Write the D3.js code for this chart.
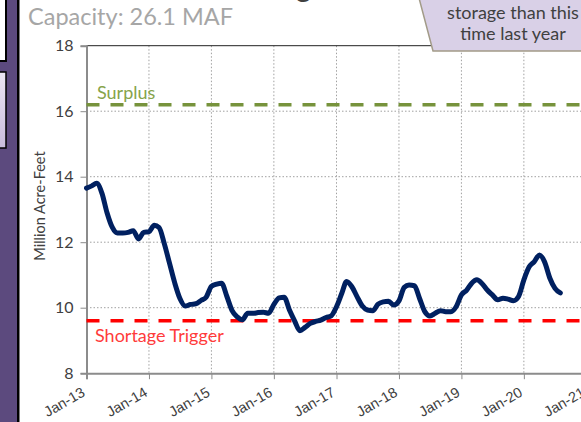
<!DOCTYPE html>
<html>
<head>
<meta charset="utf-8">
<script src="https://cdn.jsdelivr.net/npm/d3@7"></script>
<style>
  html, body { margin: 0; padding: 0; background: #fff; }
  svg { display: block; font-family: Lato, "Open Sans", sans-serif; }
</style>
</head>
<body>
<div id="chart"></div>
<script>
// monthly storage, Jan-13 .. Aug-20 (million acre-feet)
const startMonth = new Date(2013, 0, 1);
const storage = [
  13.65, 13.72, 13.8, 13.5, 12.9, 12.45, 12.28, 12.28, 12.3, 12.35, 12.1, 12.3,
  12.32, 12.52, 12.45, 11.95, 11.36, 10.75, 10.28, 10.05, 10.1, 10.12, 10.22, 10.32,
  10.65, 10.72, 10.75, 10.35, 9.92, 9.72, 9.63, 9.83, 9.83, 9.85, 9.86, 9.83,
  10.1, 10.3, 10.32, 9.93, 9.6, 9.3, 9.4, 9.52, 9.58, 9.62, 9.7, 9.75,
  10.03, 10.44, 10.8, 10.64, 10.34, 10.05, 9.93, 9.91, 10.11, 10.18, 10.2, 10.08,
  10.21, 10.62, 10.69, 10.67, 10.29, 9.88, 9.75, 9.83, 9.91, 9.88, 9.88, 10.03,
  10.39, 10.54, 10.74, 10.85, 10.74, 10.54, 10.39, 10.24, 10.29, 10.26, 10.21, 10.34,
  10.85, 11.25, 11.4, 11.61, 11.4, 10.9, 10.59, 10.45
];
const yearTicks = [2013, 2014, 2015, 2016, 2017, 2018, 2019, 2020, 2021];
const yTicks = [8, 10, 12, 14, 16, 18];
const surplusLevel = 16.2;
const shortageLevel = 9.6;
const capacityText = "Capacity: 26.1 MAF";
const calloutLines = ["storage than this", "time last year"];

const width = 581, height = 422;
const plot = { left: 86.5, right: 586.5, top: 45.7, bottom: 373.2 };

const svg = d3.select("#chart").append("svg")
  .attr("width", width).attr("height", height);

const x = d3.scaleTime()
  .domain([new Date(2013, 0, 1), new Date(2021, 0, 1)])
  .range([plot.left, plot.right]);
const y = d3.scaleLinear().domain([8, 18]).range([plot.bottom, plot.top]);

// slide decoration on the left
svg.append("rect").attr("x", 0).attr("y", 0).attr("width", 17).attr("height", height).attr("fill", "#5c4a7e");
svg.append("rect").attr("x", 17).attr("y", 0).attr("width", 2.5).attr("height", height).attr("fill", "#000");
svg.append("rect").attr("x", -2).attr("y", -2).attr("width", 8).attr("height", 63)
  .attr("fill", "#fff").attr("stroke", "#000").attr("stroke-width", 2);
const grad = svg.append("defs").append("linearGradient").attr("id", "lav")
  .attr("x1", 0).attr("y1", 0).attr("x2", 0).attr("y2", 1);
grad.append("stop").attr("offset", 0).attr("stop-color", "#ece6f3");
grad.append("stop").attr("offset", 1).attr("stop-color", "#c8bcdb");
svg.append("rect").attr("x", -2).attr("y", 72).attr("width", 8).attr("height", 76)
  .attr("fill", "url(#lav)").attr("stroke", "#000").attr("stroke-width", 1.5);

// grid
const grid = svg.append("g").attr("stroke", "#a0a0a0").attr("stroke-dasharray", "1.5 2").attr("stroke-width", 1);
yTicks.filter((v) => v > 8 && v < 18).forEach((v) => {
  grid.append("line").attr("x1", plot.left).attr("x2", width).attr("y1", y(v)).attr("y2", y(v));
});
yearTicks.slice(1).forEach((yr) => {
  const xx = x(new Date(yr, 0, 1));
  grid.append("line").attr("x1", xx).attr("x2", xx).attr("y1", plot.top).attr("y2", plot.bottom);
});

// plot frame top
svg.append("line").attr("x1", plot.left).attr("x2", width).attr("y1", plot.top).attr("y2", plot.top)
  .attr("stroke", "#222").attr("stroke-width", 1);

// axes
const yAxis = svg.append("g").attr("transform", `translate(${plot.left},0)`)
  .call(d3.axisLeft(y).tickValues(yTicks).tickSize(6).tickPadding(7));
const xAxis = svg.append("g").attr("transform", `translate(0,${plot.bottom})`)
  .call(d3.axisBottom(x).tickValues(yearTicks.map((yr) => new Date(yr, 0, 1))).tickSize(6).tickFormat(""));
[yAxis, xAxis].forEach((g) => {
  g.select(".domain").attr("stroke", "#8c8c8c").attr("stroke-width", 2);
  g.selectAll(".tick line").attr("stroke", "#8c8c8c").attr("stroke-width", 1);
});
yAxis.selectAll(".tick text").attr("font-size", 16).attr("fill", "#404040").attr("font-family", "Lato, sans-serif");

xAxis.selectAll(".tick").append("text")
  .attr("text-anchor", "end")
  .attr("transform", "translate(-1,22) rotate(-30)")
  .attr("font-size", 14.5).attr("fill", "#404040")
  .text((d) => d3.timeFormat("Jan-%y")(d));

svg.append("text")
  .attr("transform", `translate(45,206) rotate(-90)`)
  .attr("text-anchor", "middle").attr("font-size", 14.5).attr("fill", "#404040")
  .text("Million Acre-Feet");

// thresholds
svg.append("line").attr("x1", plot.left).attr("x2", width)
  .attr("y1", y(surplusLevel)).attr("y2", y(surplusLevel))
  .attr("stroke", "#77933c").attr("stroke-width", 3.5).attr("stroke-dasharray", "13 11");
svg.append("line").attr("x1", plot.left).attr("x2", width)
  .attr("y1", y(shortageLevel)).attr("y2", y(shortageLevel))
  .attr("stroke", "#ff0000").attr("stroke-width", 3.5).attr("stroke-dasharray", "13 11");
svg.append("text").attr("x", 97).attr("y", y(surplusLevel) - 6)
  .attr("font-size", 18).attr("fill", "#86a34a").text("Surplus");
svg.append("text").attr("x", 95).attr("y", y(shortageLevel) + 21)
  .attr("font-size", 18).attr("fill", "#ff3b3b").text("Shortage Trigger");

// storage line
const line = d3.line()
  .x((d, i) => x(d3.timeMonth.offset(startMonth, i)))
  .y((d) => y(d))
  .curve(d3.curveMonotoneX);
svg.append("path").datum(storage).attr("d", line)
  .attr("fill", "none").attr("stroke", "#002060").attr("stroke-width", 5)
  .attr("stroke-linejoin", "round").attr("stroke-linecap", "round");

// titles
svg.append("text").attr("x", 327).attr("y", -3).attr("text-anchor", "end")
  .attr("font-size", 30).attr("fill", "#404040").text("Storage");
svg.append("text").attr("x", 28).attr("y", 25)
  .attr("font-size", 23.5).attr("fill", "#a6a6a6").text(capacityText);

// callout box
svg.append("path")
  .attr("d", "M419,-2 L433,51 L590,51 L590,-2 Z")
  .attr("fill", "#d9d0e7").attr("stroke", "#a29b88").attr("stroke-width", 1.5);
calloutLines.forEach((t, i) => {
  svg.append("text").attr("x", 513).attr("y", 19 + i * 21).attr("text-anchor", "middle")
    .attr("font-size", 18).attr("fill", "#404040").text(t);
});
</script>
</body>
</html>
